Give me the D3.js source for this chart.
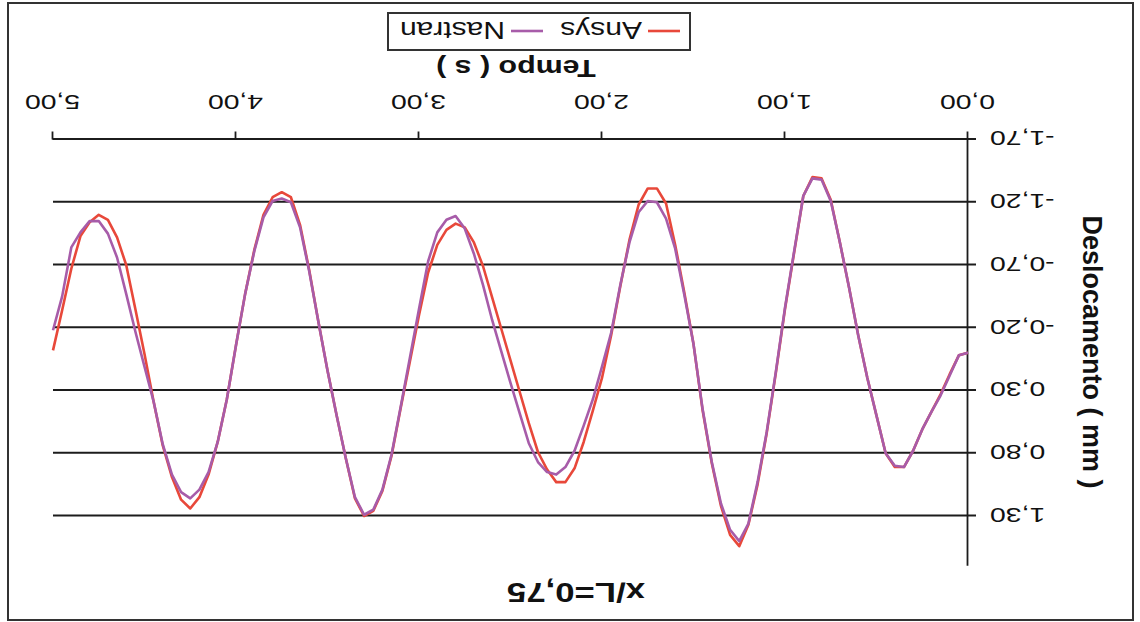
<!DOCTYPE html>
<html>
<head>
<meta charset="utf-8">
<script src="https://cdn.jsdelivr.net/npm/d3@7"></script>
<style>
  body { margin: 0; background: #fff; }
  svg { display: block; }
  text { font-family: Arial, "Liberation Sans", sans-serif; fill: #111; }
</style>
</head>
<body>
<div id="chart"></div>
<script>
// time (s)
const times = [
  0.00, 0.05, 0.10, 0.15, 0.20, 0.25, 0.30, 0.35, 0.40, 0.45,
  0.50, 0.55, 0.60, 0.65, 0.70, 0.75, 0.80, 0.85, 0.90, 0.95,
  1.00, 1.05, 1.10, 1.15, 1.20, 1.25, 1.30, 1.35, 1.40, 1.45,
  1.50, 1.55, 1.60, 1.65, 1.70, 1.75, 1.80, 1.85, 1.90, 1.95,
  2.00, 2.05, 2.10, 2.15, 2.20, 2.25, 2.30, 2.35, 2.40, 2.45,
  2.50, 2.55, 2.60, 2.65, 2.70, 2.75, 2.80, 2.85, 2.90, 2.95,
  3.00, 3.05, 3.10, 3.15, 3.20, 3.25, 3.30, 3.35, 3.40, 3.45,
  3.50, 3.55, 3.60, 3.65, 3.70, 3.75, 3.80, 3.85, 3.90, 3.95,
  4.00, 4.05, 4.10, 4.15, 4.20, 4.25, 4.30, 4.35, 4.40, 4.45,
  4.50, 4.55, 4.60, 4.65, 4.70, 4.75, 4.80, 4.85, 4.90, 4.95,
  5.00
];

// deslocamento (mm)
const ansys = [
  0.00, 0.02, 0.17, 0.33, 0.47, 0.61, 0.78, 0.91, 0.91, 0.80,
  0.50, 0.20, -0.14, -0.52, -0.88, -1.22, -1.39, -1.40, -1.25, -0.80,
  -0.35, 0.16, 0.64, 1.05, 1.37, 1.54, 1.45, 1.22, 0.88, 0.46,
  -0.07, -0.48, -0.86, -1.19, -1.31, -1.31, -1.18, -0.90, -0.53, -0.14,
  0.20, 0.46, 0.71, 0.92, 1.03, 1.03, 0.93, 0.79, 0.56, 0.31,
  0.06, -0.19, -0.44, -0.69, -0.88, -1.00, -1.03, -0.98, -0.86, -0.64,
  -0.30, 0.07, 0.44, 0.82, 1.10, 1.26, 1.30, 1.16, 0.84, 0.50,
  0.14, -0.25, -0.66, -1.02, -1.24, -1.28, -1.24, -1.10, -0.82, -0.47,
  -0.06, 0.37, 0.71, 0.97, 1.15, 1.24, 1.17, 0.99, 0.74, 0.39,
  0.01, -0.35, -0.70, -0.92, -1.06, -1.10, -1.04, -0.93, -0.67, -0.34,
  -0.02
];

const nastran = [
  0.00, 0.02, 0.18, 0.34, 0.47, 0.61, 0.78, 0.91, 0.90, 0.80,
  0.50, 0.20, -0.14, -0.52, -0.88, -1.21, -1.38, -1.39, -1.25, -0.81,
  -0.36, 0.15, 0.63, 1.03, 1.36, 1.50, 1.41, 1.20, 0.87, 0.45,
  -0.07, -0.46, -0.83, -1.07, -1.20, -1.21, -1.12, -0.88, -0.54, -0.16,
  0.11, 0.37, 0.58, 0.78, 0.91, 0.97, 0.95, 0.87, 0.72, 0.48,
  0.24, -0.01, -0.26, -0.54, -0.79, -0.99, -1.09, -1.06, -0.96, -0.73,
  -0.35, 0.04, 0.43, 0.81, 1.09, 1.25, 1.29, 1.15, 0.84, 0.50,
  0.14, -0.25, -0.65, -1.00, -1.20, -1.23, -1.21, -1.08, -0.81, -0.47,
  -0.06, 0.37, 0.71, 0.95, 1.09, 1.16, 1.11, 0.97, 0.73, 0.39,
  0.11, -0.17, -0.47, -0.76, -0.95, -1.05, -1.05, -0.96, -0.84, -0.45,
  -0.18
];

const seriesNames = ["Ansys", "Nastran"];
const seriesColors = ["#e8483a", "#a75ca9"];
const xTicks = [0, 1, 2, 3, 4, 5];
const yTicks = [-1.7, -1.2, -0.7, -0.2, 0.3, 0.8, 1.3];

const W = 1140, H = 622;
const plot = {left: 172, right: 1087, top: 55.8, bottom: 482.5};
const sx = 1.35; // the scanned text is wider than a normal font
const comma = d => d3.format(".2f")(d).replace(".", ",").replace("\u2212", "-");

const svg = d3.select("#chart").append("svg")
  .attr("width", W)
  .attr("height", H);

// the whole picture is upside down
const g = svg.append("g")
  .attr("transform", "rotate(180," + W / 2 + "," + H / 2 + ")");

g.append("rect")
  .attr("x", 7).attr("y", 2)
  .attr("width", 1125).attr("height", 617)
  .attr("fill", "#fff")
  .attr("stroke", "#333")
  .attr("stroke-width", 2);

const x = d3.scaleLinear().domain([0, 5]).range([plot.left, plot.right]);
const y = d3.scaleLinear().domain([-1.7, 1.7]).range([plot.bottom, plot.top]);

// grid
const grid = g.append("g")
  .attr("transform", "translate(" + plot.left + ",0)")
  .call(d3.axisLeft(y).tickValues(yTicks).tickSize(-(plot.right - plot.left)).tickFormat(""));
grid.select(".domain").remove();
grid.selectAll("line").attr("stroke", "#1c1c1c").attr("stroke-width", 2);

// y axis
const yAxis = g.append("g")
  .attr("transform", "translate(" + plot.left + ",0)")
  .call(d3.axisLeft(y).tickValues(yTicks).tickSize(8).tickSizeOuter(0).tickFormat(comma));
yAxis.select(".domain").attr("stroke", "#1c1c1c").attr("stroke-width", 1.8);
yAxis.selectAll("line").attr("stroke", "#1c1c1c").attr("stroke-width", 2);
yAxis.selectAll("text")
  .attr("font-size", 21)
  .attr("x", -22 / sx)
  .attr("dy", "0.36em")
  .attr("transform", "scale(" + sx + ",1)");

// x axis
const xAxis = g.append("g")
  .attr("transform", "translate(0," + plot.bottom + ")")
  .call(d3.axisBottom(x).tickValues(xTicks).tickSize(8).tickSizeOuter(0).tickFormat(comma));
xAxis.select(".domain").attr("stroke", "#1c1c1c").attr("stroke-width", 2);
xAxis.selectAll("line").attr("stroke", "#1c1c1c").attr("stroke-width", 1.8);
xAxis.selectAll("text")
  .attr("font-size", 21)
  .attr("y", 37)
  .attr("dy", "0.36em")
  .attr("transform", "scale(" + sx + ",1)");

// series
const line = d3.line()
  .x((d, i) => x(times[i]))
  .y(d => y(d));

[ansys, nastran].forEach((s, k) => {
  g.append("path")
    .datum(s)
    .attr("fill", "none")
    .attr("stroke", seriesColors[k])
    .attr("stroke-width", 2.6)
    .attr("stroke-linejoin", "round")
    .attr("d", line);
});

// titles
g.append("g")
  .attr("transform", "translate(564,29) scale(1.24,1)")
  .append("text")
  .attr("text-anchor", "middle")
  .attr("dy", "0.36em")
  .attr("font-size", 28)
  .attr("font-weight", "bold")
  .text("x/L=0,75");

g.append("g")
  .attr("transform", "translate(624,554) scale(1.32,1)")
  .append("text")
  .attr("text-anchor", "middle")
  .attr("dy", "0.36em")
  .attr("font-size", 23)
  .attr("font-weight", "bold")
  .text("Tempo ( s )");

g.append("text")
  .attr("transform", "translate(47,270) rotate(-90)")
  .attr("text-anchor", "middle")
  .attr("dy", "0.36em")
  .attr("font-size", 27)
  .attr("font-weight", "bold")
  .text("Deslocamento ( mm )");

// legend
const legend = g.append("g").attr("transform", "translate(450,572)");
legend.append("rect")
  .attr("width", 302).attr("height", 37)
  .attr("fill", "#fff")
  .attr("stroke", "#333")
  .attr("stroke-width", 2);

const legendX = [10, 147];
seriesNames.forEach((name, k) => {
  const item = legend.append("g").attr("transform", "translate(" + legendX[k] + ",19)");
  item.append("line")
    .attr("x1", 0).attr("x2", 32)
    .attr("stroke", seriesColors[k])
    .attr("stroke-width", 2.6);
  item.append("text")
    .attr("x", 38 / 1.25)
    .attr("dy", "0.36em")
    .attr("font-size", 24)
    .attr("transform", "scale(1.25,1)")
    .text(name);
});
</script>
</body>
</html>
